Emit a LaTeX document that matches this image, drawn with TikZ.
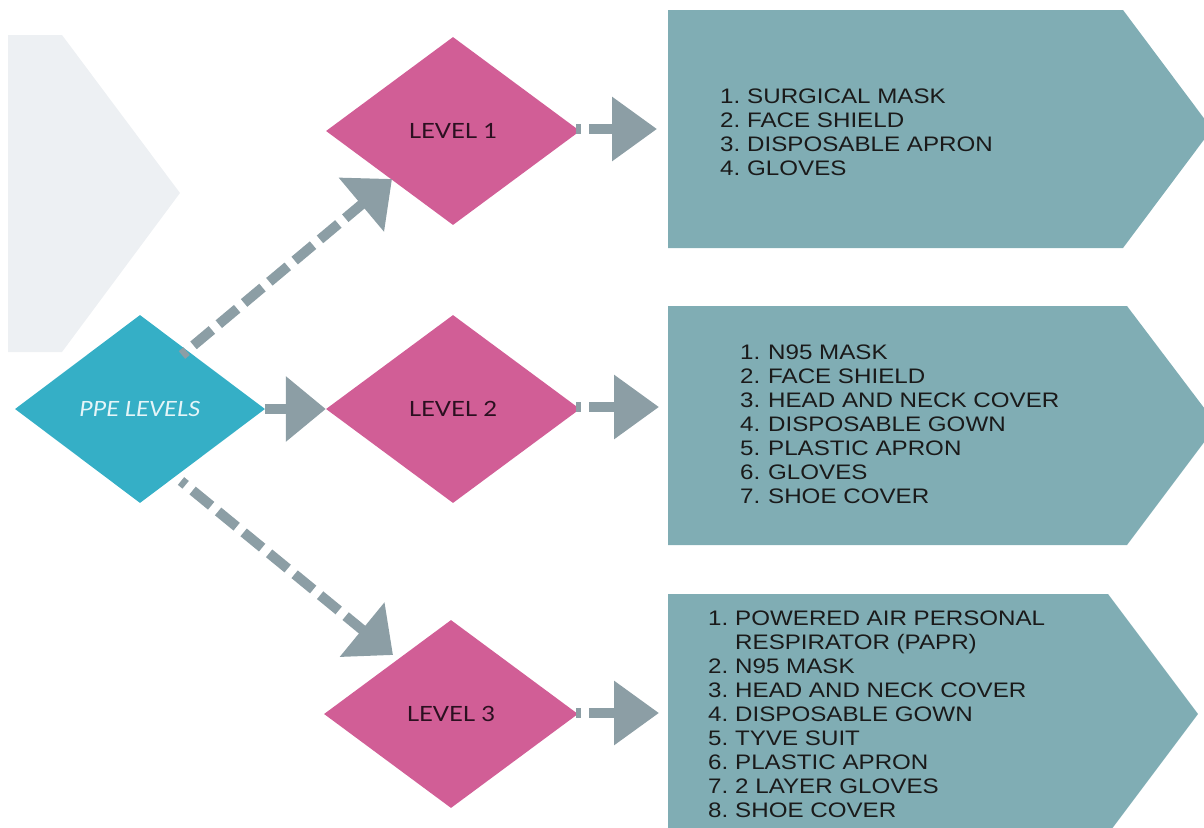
\documentclass[tikz,border=0pt]{standalone}
\usepackage{fontspec}
\usetikzlibrary{shapes.geometric,arrows.meta,calc}
\newfontfamily\latof[FakeStretch=1.14]{Lato}
\newfontfamily\arialf[FakeStretch=1.15]{Liberation Sans}
\definecolor{bgchev}{HTML}{EDF0F3}
\definecolor{boxteal}{HTML}{80ADB4}
\definecolor{pinkc}{HTML}{D15E96}
\definecolor{cyanc}{HTML}{35AFC6}
\definecolor{arrowg}{HTML}{8C9EA5}
\definecolor{txtdark}{HTML}{2B1020}
\definecolor{listtxt}{HTML}{1A1A1A}
\definecolor{ppetxt}{HTML}{E5F5F8}
\begin{document}
\begin{tikzpicture}[x=1pt,y=-1pt,
  dia/.style={diamond, draw=none, minimum width=254pt, minimum height=188pt, inner sep=0pt},
  lvl/.style={dia, fill=pinkc, text=txtdark, font=\latof\fontsize{21}{24}\selectfont},
  ppe/.style={dia, minimum width=250pt, fill=cyanc, text=ppetxt, font=\latof\itshape\fontsize{21}{24}\selectfont},
  chevbox/.style={fill=boxteal},
  listtext/.style={anchor=north west, inner sep=0pt, align=left, text=listtxt, font=\arialf\fontsize{21}{24}\selectfont},
  harrow/.style={draw=arrowg, line width=10pt, dash pattern=on 5pt off 8pt on 300pt, -{Triangle[length=45pt,width=62pt]}},
  solidarrow/.style={draw=arrowg, line width=10pt, -{Triangle[length=40pt,width=63pt]}},
  darrow/.style={draw=arrowg, line width=10pt, dash pattern=on 24pt off 9pt, dash phase=18pt, -{Triangle[length=40pt,width=68pt]}}
]
\useasboundingbox (0,0) rectangle (1204,827);
% background chevron
\fill[bgchev] (8,35) -- (62,35) -- (180,193) -- (62,352) -- (8,352) -- cycle;
% list boxes
\fill[chevbox] (668,10) -- (1123,10) -- (1212,129) -- (1123,248) -- (668,248) -- cycle;
\fill[chevbox] (668,306) -- (1127,306) -- (1217,425) -- (1127,545) -- (668,545) -- cycle;
\fill[chevbox] (668,594) -- (1108,594) -- (1198,714) -- (1108,834) -- (668,834) -- cycle;
% diamonds
\node[ppe] (ppe) at (140,409) {PPE LEVELS};
\node[lvl] (l1) at (453,131) {LEVEL 1};
\node[lvl] (l2) at (453,409) {LEVEL 2};
\node[lvl] (l3) at (451,714) {LEVEL 3};
% lists
\node[listtext] (t1) at (720,89) {\makebox[27pt][l]{1.}SURGICAL MASK\\\makebox[27pt][l]{2.}FACE SHIELD\\\makebox[27pt][l]{3.}DISPOSABLE APRON\\\makebox[27pt][l]{4.}GLOVES};
\node[listtext] (t2) at (740,345) {\makebox[28pt][l]{1.}N95 MASK\\\makebox[28pt][l]{2.}FACE SHIELD\\\makebox[28pt][l]{3.}HEAD AND NECK COVER\\\makebox[28pt][l]{4.}DISPOSABLE GOWN\\\makebox[28pt][l]{5.}PLASTIC APRON\\\makebox[28pt][l]{6.}GLOVES\\\makebox[28pt][l]{7.}SHOE COVER};
\node[listtext] (t3) at (708,611) {\makebox[27pt][l]{1.}POWERED AIR PERSONAL\\\makebox[27pt][l]{}RESPIRATOR (PAPR)\\\makebox[27pt][l]{2.}N95 MASK\\\makebox[27pt][l]{3.}HEAD AND NECK COVER\\\makebox[27pt][l]{4.}DISPOSABLE GOWN\\\makebox[27pt][l]{5.}TYVE SUIT\\\makebox[27pt][l]{6.}PLASTIC APRON\\\makebox[27pt][l]{7.}2 LAYER GLOVES\\\makebox[27pt][l]{8.}SHOE COVER};
% connector end points
\coordinate (s1) at (182,355);
\coordinate (e1) at (392,179);
\coordinate (s3) at (181,481);
\coordinate (e3) at (393,655);
\coordinate (h1s) at (576,129);
\coordinate (h1e) at (657,129);
\coordinate (h2s) at (576,407);
\coordinate (h2e) at (659,407);
\coordinate (h3s) at (576,713);
\coordinate (h3e) at (659,713);
% connectors
\draw[solidarrow] (ppe.east) -- (l2.west);
\draw[darrow] (s1) -- (e1);
\draw[darrow] (s3) -- (e3);
\draw[harrow] (h1s) -- (h1e);
\draw[harrow] (h2s) -- (h2e);
\draw[harrow] (h3s) -- (h3e);
\end{tikzpicture}
\end{document}
